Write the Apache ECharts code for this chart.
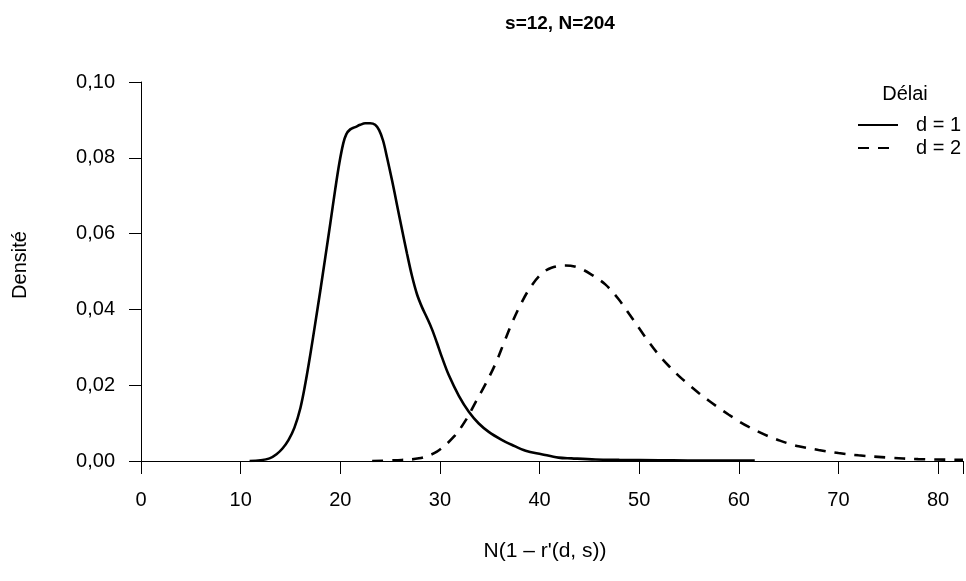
<!DOCTYPE html>
<html>
<head>
<meta charset="utf-8">
<script src="https://cdn.jsdelivr.net/npm/echarts@6/dist/echarts.min.js"></script>
<style>html,body{margin:0;padding:0;background:#fff}#c{width:966px;height:581px}</style>
</head>
<body>
<div id="c"></div>
<script>
var titleText = 's=12, N=204';
var xName = 'N(1 – r\'(d, s))';
var yName = 'Densité';
var legendTitle = 'Délai';
var seriesNames = ['d = 1', 'd = 2'];
var xTicks = [0, 10, 20, 30, 40, 50, 60, 70, 80];
var yTicks = [0, 0.02, 0.04, 0.06, 0.08, 0.10];

var d1x = [10.9, 12.0, 12.9, 13.6, 14.2, 14.8, 15.4, 16.0, 16.5, 17.0, 17.5, 18.0, 18.5, 19.0, 19.5, 19.9, 20.3, 20.6, 21.0, 21.5, 22.0, 22.5, 23.0, 23.5, 23.9, 24.3, 24.7, 25.2, 25.7, 26.2, 26.7, 27.2, 27.7, 28.2, 28.7, 29.2, 29.7, 30.2, 30.9, 31.9, 32.9, 33.9, 34.9, 36.2, 37.2, 38.6, 40.2, 41.9, 43.2, 45.6, 48.0, 52.0, 56.0, 61.6];
var d1y = [0.0000, 0.0002, 0.0007, 0.0018, 0.0033, 0.0055, 0.0088, 0.0140, 0.0205, 0.0282, 0.0365, 0.0450, 0.0538, 0.0627, 0.0718, 0.0785, 0.0838, 0.0862, 0.0875, 0.0881, 0.0887, 0.0891, 0.0891, 0.0887, 0.0873, 0.0845, 0.0800, 0.0740, 0.0675, 0.0610, 0.0547, 0.0488, 0.0440, 0.0406, 0.0378, 0.0348, 0.0312, 0.0274, 0.0226, 0.0172, 0.0130, 0.0099, 0.0077, 0.0056, 0.0043, 0.0027, 0.0018, 0.0009, 0.0007, 0.0004, 0.0003, 0.0002, 0.0001, 0.0001];

var d2x = [23.2, 25.5, 27.9, 29.7, 31.4, 32.6, 33.6, 34.6, 35.6, 36.4, 37.2, 38.1, 39.1, 40.2, 41.2, 42.6, 43.9, 45.2, 46.6, 47.9, 49, 50, 51, 52, 53, 54, 55, 56, 57, 58, 59, 60, 61, 62, 63, 64, 65, 66, 68, 70, 72, 75, 78, 82.5];
var d2y = [0.0000, 0.0002, 0.0007, 0.0025, 0.0064, 0.0108, 0.0156, 0.0204, 0.0258, 0.0310, 0.0362, 0.0413, 0.0459, 0.0494, 0.0510, 0.0516, 0.0510, 0.0492, 0.0466, 0.0428, 0.0388, 0.0350, 0.0313, 0.0279, 0.0250, 0.0224, 0.0201, 0.0179, 0.0159, 0.0140, 0.0122, 0.0105, 0.0090, 0.0077, 0.0065, 0.0055, 0.0046, 0.0039, 0.0029, 0.0021, 0.0015, 0.0009, 0.0005, 0.0003];

function zip(xs, ys) { return xs.map(function (x, i) { return [x, ys[i]]; }); }

var FONT = '"Liberation Sans", Arial, sans-serif';
var chart = echarts.init(document.getElementById('c'), null, {renderer: 'canvas'});
chart.setOption({
  animation: false,
  backgroundColor: '#fff',
  title: {
    text: titleText, left: 555, top: 9, textAlign: 'center',
    textStyle: {fontFamily: FONT, fontSize: 19, fontWeight: 'bold', color: '#000'}
  },
  grid: {left: 141, right: 0, top: 82, bottom: 120, containLabel: false},
  legend: {
    orient: 'vertical', left: 852, top: 110, itemWidth: 40, itemHeight: 14, itemGap: 3,
    data: seriesNames,
    itemStyle: {opacity: 0},
    textStyle: {fontFamily: FONT, fontSize: 20, color: '#000', padding: [0, 0, 0, 13]}
  },
  graphic: [
    {type: 'text', x: 905, y: 94, style: {text: legendTitle, font: '20px ' + FONT, fill: '#000', align: 'center', verticalAlign: 'middle'}},
    {type: 'text', x: 545, y: 551, style: {text: xName, font: '21px ' + FONT, fill: '#000', align: 'center', verticalAlign: 'middle'}},
    {type: 'text', x: 20, y: 265, rotation: Math.PI / 2, style: {text: yName, font: '20px ' + FONT, fill: '#000', align: 'center', verticalAlign: 'middle'}}
  ],
  xAxis: {
    type: 'value', min: 0, max: 82.5, interval: 10,
    axisLine: {show: true, onZero: false, lineStyle: {color: '#000', width: 1}},
    axisTick: {show: true, length: 13, lineStyle: {color: '#000', width: 1}},
    axisLabel: {
      margin: 29, fontFamily: FONT, fontSize: 20, color: '#000',
      formatter: function (v) { return xTicks.indexOf(v) >= 0 ? String(v) : ''; }
    },
    splitLine: {show: false}
  },
  yAxis: {
    type: 'value', min: 0, max: 0.1, interval: 0.02,
    axisLine: {show: true, lineStyle: {color: '#000', width: 1}},
    axisTick: {show: true, length: 12, lineStyle: {color: '#000', width: 1}},
    axisLabel: {
      margin: 26, fontFamily: FONT, fontSize: 20, color: '#000',
      formatter: function (v) {
        var ok = yTicks.some(function (t) { return Math.abs(t - v) < 1e-9; });
        return ok ? v.toFixed(2).replace('.', ',') : '';
      }
    },
    splitLine: {show: false}
  },
  series: [
    {
      name: seriesNames[0], type: 'line', data: zip(d1x, d1y), smooth: 0.35, symbol: 'none',
      lineStyle: {color: '#000', width: 2.6, type: 'solid'}, itemStyle: {color: '#000'}
    },
    {
      name: seriesNames[1], type: 'line', data: zip(d2x, d2y), smooth: 0.35, symbol: 'none',
      lineStyle: {color: '#000', width: 2.6, type: [11, 9]}, itemStyle: {color: '#000'}
    }
  ]
});
</script>
</body>
</html>
